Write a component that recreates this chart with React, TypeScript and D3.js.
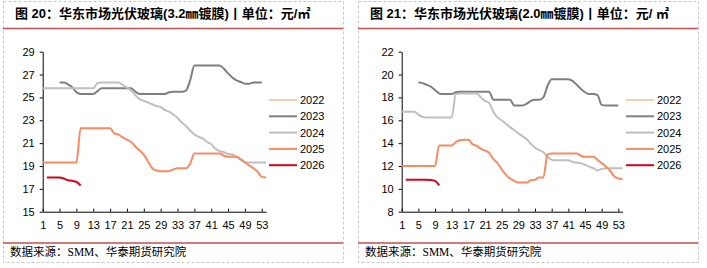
import { useEffect, useRef } from "react";
import * as d3 from "d3";

type Series = (number | null)[];

const WIDTH = 707;
const HEIGHT = 268;
const PANEL_WIDTH = 340;

const YEARS = ["2022", "2023", "2024", "2025", "2026"];
const YEAR_COLORS = ["#F8CBAD", "#7F7F7F", "#BFBFBF", "#F98A62", "#D9001B"];

const WEEK_TICKS = [1, 5, 9, 13, 17, 21, 25, 29, 33, 37, 41, 45, 49, 53];
const WEEK_DOMAIN: [number, number] = [1, 54];

const TICKS_32 = [15, 17, 19, 21, 23, 25, 27, 29];
const TICKS_20 = [8, 10, 12, 14, 16, 18, 20, 22];

// 3.2mm coated glass, weekly price, week 1 first
const G32_2022: Series = [];
const G32_2023: Series = [
  null, null, null, null, 26.3, 26.3, 26.15, 25.9, 25.45, 25.3, 25.3, 25.3, 25.3,
  25.55, 25.8, 25.8, 25.8, 25.8, 25.8, 25.8, 25.8, 25.8, 25.5, 25.3, 25.3, 25.3,
  25.3, 25.3, 25.3, 25.3, 25.45, 25.5, 25.5, 25.5, 25.6, 26.5, 27.8, 27.8, 27.8,
  27.8, 27.8, 27.8, 27.8, 27.5, 27.1, 26.75, 26.5, 26.35, 26.2, 26.2, 26.3, 26.3,
  26.3,
];
const G32_2024: Series = [
  25.8, 25.8, 25.8, 25.8, 25.8, 25.8, 25.8, 25.8, 25.8, 25.8, 25.8, 25.8, 25.8,
  26.25, 26.3, 26.3, 26.3, 26.3, 26.3, 26.1, 25.85, 25.6, 25.2, 24.85, 24.7, 24.55,
  24.4, 24.25, 24.15, 23.9, 23.75, 23.5, 23.2, 22.8, 22.5, 22.1, 21.75, 21.55, 21.4,
  21.1, 20.9, 20.5, 20.3, 20.2, 20.05, 20.0, 19.8, 19.55, 19.35, 19.3, 19.3, 19.3,
  19.3, 19.3,
];
const G32_2025: Series = [
  19.3, 19.3, 19.3, 19.3, 19.3, 19.3, 19.3, 19.3, 19.3, 22.3, 22.3, 22.3, 22.3,
  22.3, 22.3, 22.3, 22.3, 21.85, 21.75, 21.5, 21.3, 21.1, 20.7, 20.35, 20.0, 19.4,
  18.8, 18.6, 18.55, 18.55, 18.55, 18.7, 18.8, 18.8, 18.8, 19.2, 20.1, 20.1, 20.1,
  20.1, 20.1, 20.1, 20.1, 19.9, 19.8, 19.8, 19.8, 19.6, 19.3, 19.05, 18.8, 18.5,
  18.05, 18.0,
];
const G32_2026: Series = [null, 18.0, 18.0, 18.0, 18.0, 17.9, 17.75, 17.7, 17.6, 17.3];

// 2.0mm coated glass, weekly price, week 1 first
const G20_2022: Series = [];
const G20_2023: Series = [
  null, null, null, null, 19.3, 19.25, 19.1, 18.95, 18.65, 18.35, 18.3, 18.3, 18.3,
  18.45, 18.5, 18.5, 18.5, 18.5, 18.5, 18.5, 18.5, 18.5, 17.8, 17.8, 17.8, 17.8,
  17.8, 17.3, 17.3, 17.3, 17.45, 17.7, 17.8, 17.8, 18.0, 19.0, 19.6, 19.6, 19.6,
  19.6, 19.6, 19.45, 19.1, 18.75, 18.45, 18.3, 18.3, 18.2, 17.35, 17.3, 17.3, 17.3,
  17.3,
];
const G20_2024: Series = [
  16.75, 16.75, 16.75, 16.75, 16.5, 16.3, 16.25, 16.25, 16.25, 16.25, 16.25, 16.25,
  16.25, 18.3, 18.35, 18.35, 18.35, 18.35, 18.35, 18.0, 17.7, 17.5, 16.75, 16.25,
  16.0, 15.7, 15.4, 15.15, 14.85, 14.6, 14.35, 13.95, 13.6, 13.4, 13.2, 12.8, 12.55,
  12.5, 12.5, 12.5, 12.5, 12.35, 12.3, 12.25, 12.1, 11.95, 11.8, 11.6, 11.75, 11.8,
  11.8, 11.8, 11.8, 11.8,
];
const G20_2025: Series = [
  12.0, 12.0, 12.0, 12.0, 12.0, 12.0, 12.0, 12.0, 12.0, 13.8, 13.8, 13.8, 13.8,
  14.1, 14.25, 14.3, 14.3, 13.9, 13.75, 13.5, 13.35, 13.15, 12.6, 12.25, 11.7, 11.25,
  10.9, 10.7, 10.55, 10.55, 10.55, 10.75, 10.8, 11.0, 11.0, 13.0, 13.1, 13.1, 13.1,
  13.1, 13.1, 13.1, 13.1, 12.9, 12.8, 12.8, 12.8, 12.55, 12.25, 11.95, 11.6, 11.1,
  10.9, 10.85,
];
const G20_2026: Series = [null, 10.8, 10.8, 10.8, 10.8, 10.8, 10.8, 10.78, 10.7, 10.3];

const SOURCE = "数据来源：SMM、华泰期货研究院";

interface Panel {
  left: number;
  title: string;
  yTicks: number[];
  series: Series[];
  plot: { x0: number; x1: number; y0: number; y1: number };
  legendX: number;
}

const PANELS: Panel[] = [
  {
    left: 3,
    title: "图 20：华东市场光伏玻璃(3.2㎜镀膜)丨单位：元/㎡",
    yTicks: TICKS_32,
    series: [G32_2022, G32_2023, G32_2024, G32_2025, G32_2026],
    plot: { x0: 42.7, x1: 266, y0: 211.7, y1: 51.7 },
    legendX: 269,
  },
  {
    left: 358,
    title: "图 21：华东市场光伏玻璃(2.0㎜镀膜)丨单位：元/ ㎡",
    yTicks: TICKS_20,
    series: [G20_2022, G20_2023, G20_2024, G20_2025, G20_2026],
    plot: { x0: 401.7, x1: 622.5, y0: 211.7, y1: 51.7 },
    legendX: 626,
  },
];

const LABEL_FONT = "'Liberation Sans', Arial, sans-serif";
const TITLE_FONT = "'Liberation Sans', 'Noto Sans CJK SC', sans-serif";
const SOURCE_FONT = "'Liberation Serif', 'Noto Sans CJK SC', serif";
const RULE_COLOR = "#C0504D";

function drawFrame(svg: d3.Selection<SVGSVGElement, unknown, null, undefined>, p: Panel) {
  const g = svg.append("g");

  g.append("rect")
    .attr("x", p.left + 0.5)
    .attr("y", 1.5)
    .attr("width", PANEL_WIDTH)
    .attr("height", 261)
    .attr("fill", "none")
    .attr("stroke", "#C8C8C8")
    .attr("stroke-dasharray", "3,2");

  g.append("text")
    .attr("x", p.left + 12)
    .attr("y", 18)
    .attr("font-family", TITLE_FONT)
    .attr("font-size", 13)
    .attr("font-weight", "bold")
    .attr("fill", "#000")
    .text(p.title);

  [28.5, 243].forEach((y) => {
    g.append("line")
      .attr("x1", p.left)
      .attr("x2", p.left + PANEL_WIDTH)
      .attr("y1", y)
      .attr("y2", y)
      .attr("stroke", RULE_COLOR)
      .attr("stroke-width", 1.3);
  });

  g.append("text")
    .attr("x", p.left + 7)
    .attr("y", 256)
    .attr("font-family", SOURCE_FONT)
    .attr("font-size", 11.5)
    .attr("fill", "#000")
    .text(SOURCE);
}

function drawChart(svg: d3.Selection<SVGSVGElement, unknown, null, undefined>, p: Panel) {
  const { x0, x1, y0, y1 } = p.plot;
  const yDomain = [p.yTicks[0], p.yTicks[p.yTicks.length - 1]];

  const x = d3.scaleLinear().domain(WEEK_DOMAIN).range([x0, x1]);
  const y = d3.scaleLinear().domain(yDomain).range([y0, y1]);

  const g = svg.append("g");

  const yAxis = d3
    .axisLeft(y)
    .tickValues(p.yTicks)
    .tickFormat(d3.format("d"))
    .tickSizeInner(3)
    .tickSizeOuter(0)
    .tickPadding(5);

  const xAxis = d3
    .axisBottom(x)
    .tickValues(WEEK_TICKS)
    .tickFormat(d3.format("d"))
    .tickSizeInner(-3)
    .tickSizeOuter(0)
    .tickPadding(10);

  const ya = g.append("g").attr("transform", `translate(${x0},0)`).call(yAxis);
  const xa = g.append("g").attr("transform", `translate(0,${y0})`).call(xAxis);

  [ya, xa].forEach((a) => {
    a.attr("font-family", LABEL_FONT).attr("font-size", 11);
    a.selectAll("path,line").attr("stroke", "#000");
    a.selectAll("text").attr("fill", "#000");
  });

  const line = d3
    .line<number | null>()
    .defined((d) => d != null)
    .x((_d, i) => x(i + 1))
    .y((d) => y(d as number))
    .curve(d3.curveMonotoneX);

  p.series.forEach((values, i) => {
    g.append("path")
      .datum(values)
      .attr("fill", "none")
      .attr("stroke", YEAR_COLORS[i])
      .attr("stroke-width", 2)
      .attr("d", line);
  });

  // legend
  const legend = g.append("g");
  YEARS.forEach((year, i) => {
    const ly = 100 + i * 16.3;
    legend
      .append("line")
      .attr("x1", p.legendX)
      .attr("x2", p.legendX + 28)
      .attr("y1", ly)
      .attr("y2", ly)
      .attr("stroke", YEAR_COLORS[i])
      .attr("stroke-width", 2);
    legend
      .append("text")
      .attr("x", p.legendX + 31)
      .attr("y", ly + 4)
      .attr("font-family", LABEL_FONT)
      .attr("font-size", 11)
      .attr("fill", "#000")
      .text(year);
  });
}

export default function App() {
  const svgRef = useRef<SVGSVGElement | null>(null);

  useEffect(() => {
    const node = svgRef.current;
    if (!node) return;
    const svg = d3.select(node);
    svg.selectAll("*").remove();

    PANELS.forEach((p) => {
      drawFrame(svg, p);
      drawChart(svg, p);
    });
  }, []);

  return (
    <div style={{ position: "absolute", left: 0, top: 0, background: "#fff" }}>
      <svg ref={svgRef} width={WIDTH} height={HEIGHT} style={{ display: "block" }} />
    </div>
  );
}
